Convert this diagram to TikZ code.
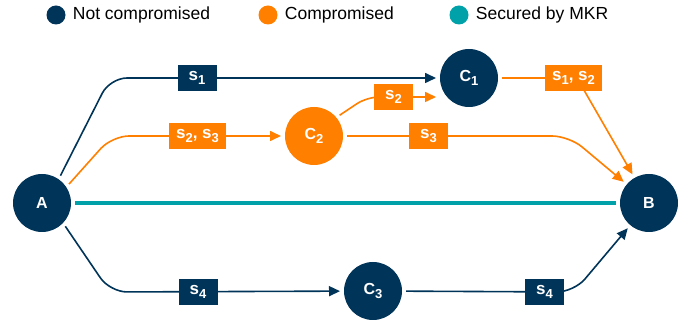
\documentclass[tikz,border=0pt]{standalone}
\usepackage{fontspec}
\setmainfont{Liberation Sans}
\usetikzlibrary{positioning,arrows.meta}
\definecolor{navy}{RGB}{0,52,89}
\definecolor{orng}{RGB}{255,127,0}
\definecolor{mkrteal}{RGB}{0,161,168}
\newcommand\sid[1]{\raisebox{-4pt}{\fontsize{13}{15}\selectfont #1}}
\begin{document}
\begin{tikzpicture}[x=1pt, y=-1pt, >={Triangle[length=11pt,width=10pt]},
  host/.style={circle, minimum size=58pt, inner sep=0pt, outer sep=4pt, text=white, font=\fontsize{16}{19}\selectfont\bfseries},
  navyline/.style={draw=navy, line width=1.6pt, rounded corners=17pt},
  orngline/.style={draw=orng, line width=1.6pt, rounded corners=17pt},
  sbox/.style={text=white, font=\fontsize{17}{20}\selectfont\bfseries, minimum width=39pt, minimum height=26pt, inner xsep=7.5pt, inner ysep=0pt},
  key/.style={circle, minimum size=19pt, inner sep=0pt},
  keytext/.style={inner sep=0pt, font=\fontsize{17.5}{20}\selectfont}]
\useasboundingbox (0,0) rectangle (685,320);
\node[key, fill=navy] (k1) at (56,15) {};
\node[keytext, right=7pt of k1] (t1) {Not compromised};
\node[key, fill=orng] (k2) at (268,15) {};
\node[keytext, right=7pt of k2] (t2) {Compromised};
\node[key, fill=mkrteal] (k3) at (459,15) {};
\node[keytext, right=7pt of k3] (t3) {Secured by MKR};
\node[host, fill=navy] (A) at (42,203) {A};
\node[host, fill=navy] (B) at (649,203) {B};
\node[host, fill=navy] (C1) at (469,78) {C\sid{1}};
\node[host, fill=orng] (C2) at (314,136) {C\sid{2}};
\node[host, fill=navy] (C3) at (373,291) {C\sid{3}};
\coordinate (c1low) at ([yshift=-19pt]C1.west);
\draw[navyline, ->] (A.56) -- (110,78) -- (C1);
\draw[orngline, ->] (A.35) -- (112,136) -- (C2);
\draw[orngline, ->, rounded corners=12pt] (C2.39) -- (367,97) -- (c1low);
\draw[orngline, ->] (C2) -- (569,136) -- (B);
\draw[orngline, ->, sharp corners] (C1) -- (577,78) -- (B);
\draw[mkrteal, line width=3.5pt] (A) -- (B);
\draw[navyline, ->] (A.-45) -- (110,292) -- (C3);
\draw[navyline, ->] (C3) -- (574,292) -- (B);
\node[sbox, fill=navy] (l1) at (197,78) {s\sid{1}};
\node[sbox, fill=orng] (l23) at (197.5,136) {s\sid{2}, s\sid{3}};
\node[sbox, fill=orng] (l2) at (393.5,97) {s\sid{2}};
\node[sbox, fill=orng] (l12) at (573.5,78) {s\sid{1}, s\sid{2}};
\node[sbox, fill=orng] (l3) at (428.5,136) {s\sid{3}};
\node[sbox, fill=navy] (l4a) at (198,292) {s\sid{4}};
\node[sbox, fill=navy] (l4b) at (544.5,292) {s\sid{4}};
\end{tikzpicture}
\end{document}
